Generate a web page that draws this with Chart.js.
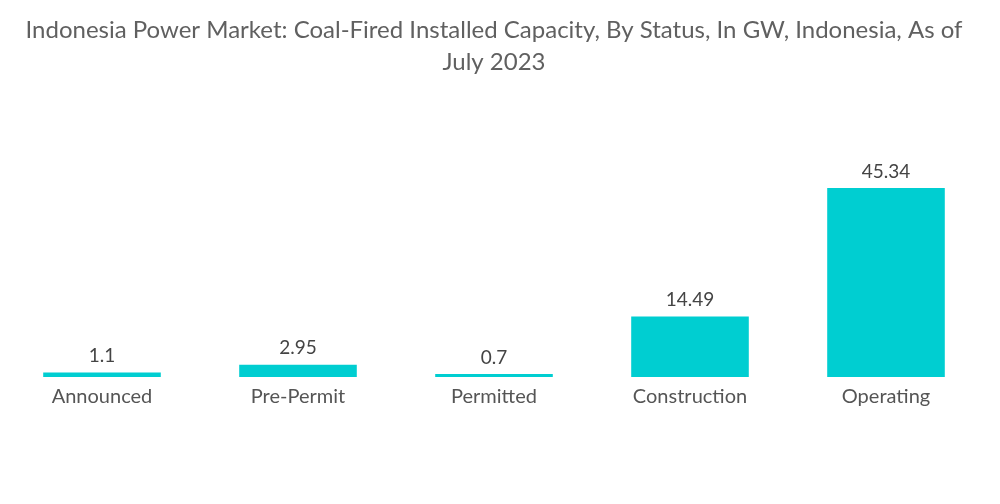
<!DOCTYPE html>
<html>
<head>
<meta charset="utf-8">
<script src="https://cdn.jsdelivr.net/npm/chart.js@4"></script>
<style>
    html, body {
        margin : 0;
        padding : 0;
        background : #FFFFFF;
    }

    .chart-box {
        width : 1000px;
        height : 504px;
    }
</style>
</head>
<body>
<div class="chart-box">
    <canvas id="chart"></canvas>
</div>
<script>
var categories = ["Announced", "Pre-Permit", "Permitted", "Construction", "Operating"];
var capacityGW = [1.1, 2.95, 0.7, 14.49, 45.34];
var titleLines = [
    "Indonesia Power Market: Coal-Fired Installed Capacity, By Status, In GW, Indonesia, As of",
    "July 2023"
];

var BAR_COLOR = "#00CED1";
var FONT = "Lato, 'Open Sans', sans-serif";

// draws the number above each bar
var valueLabels = {
    id: "valueLabels",
    afterDatasetsDraw(chart) {
        var ctx = chart.ctx;
        var meta = chart.getDatasetMeta(0);
        ctx.save();
        ctx.font = "19px " + FONT;
        ctx.fillStyle = "#444444";
        ctx.textAlign = "center";
        ctx.textBaseline = "bottom";
        meta.data.forEach((bar, i) => {
            ctx.fillText(String(capacityGW[i]), bar.x, bar.y - 7);
        });
        ctx.restore();
    }
};

new Chart(document.getElementById("chart"), {
    type: "bar",
    data: {
        labels: categories,
        datasets: [{
            label: "Capacity (GW)",
            data: capacityGW,
            backgroundColor: BAR_COLOR,
            categoryPercentage: 1,
            barPercentage: 0.6
        }]
    },
    options: {
        responsive: true,
        maintainAspectRatio: false,
        animation: false,
        layout: {
            padding: { left: 4, right: 16, top: 0, bottom: 87 }
        },
        plugins: {
            legend: { display: false },
            tooltip: { enabled: false },
            title: {
                display: true,
                text: titleLines,
                color: "#606060",
                font: { family: FONT, size: 24, weight: "normal", lineHeight: 1.33 },
                padding: { top: 14, bottom: 49 }
            }
        },
        scales: {
            x: {
                grid: { display: false, drawTicks: false },
                border: { display: false },
                ticks: {
                    color: "#555555",
                    font: { family: FONT, size: 20 },
                    padding: 8
                }
            },
            y: {
                display: false,
                min: 0,
                max: 60
            }
        }
    },
    plugins: [valueLabels]
});
</script>
</body>
</html>
